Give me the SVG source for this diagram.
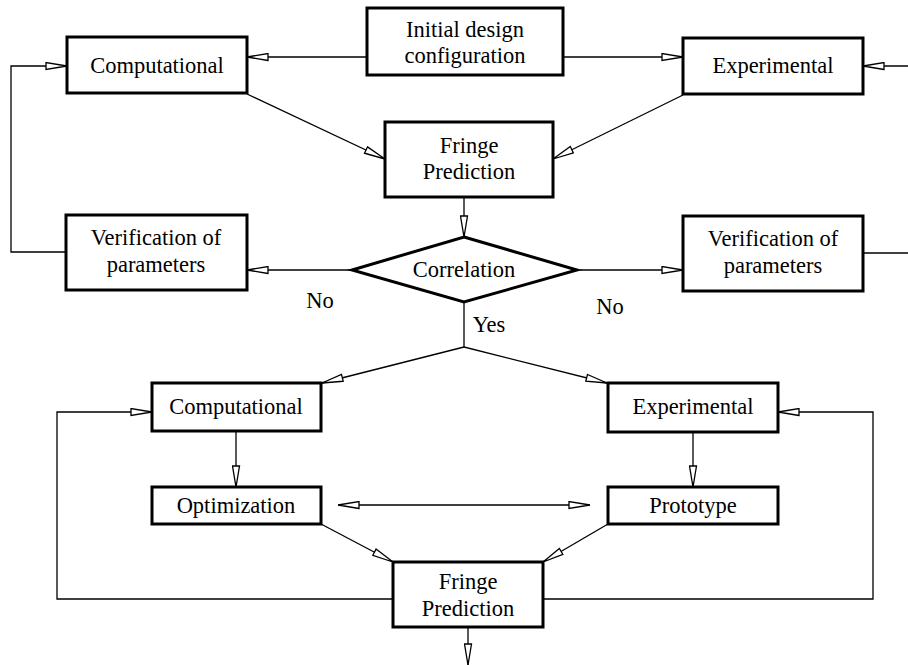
<svg xmlns="http://www.w3.org/2000/svg" width="908" height="665" viewBox="0 0 908 665">
<style>
.box{fill:#fff;stroke:#000;stroke-width:3}
.t{font-family:"Liberation Serif","Times New Roman",serif;font-size:22.5px;fill:#000;text-anchor:middle}
.c{fill:none;stroke:#000;stroke-width:1.3}
</style>
<defs>
<marker id="ah" viewBox="0 0 22 9" refX="22" refY="4.5" markerWidth="22" markerHeight="9" markerUnits="userSpaceOnUse" orient="auto-start-reverse">
<path d="M1,1 L22,4.5 L1,8 Z" fill="#fff" stroke="#000" stroke-width="1.3"/>
</marker>
</defs>
<rect width="908" height="665" fill="#fff"/>
<g id="connectors">
<path class="c" d="M367,57 H247" marker-end="url(#ah)"/>
<path class="c" d="M563,57 H683" marker-end="url(#ah)"/>
<path class="c" d="M247,94 L385,159" marker-end="url(#ah)"/>
<path class="c" d="M683,95 L553,159" marker-end="url(#ah)"/>
<path class="c" d="M464,197 V237" marker-end="url(#ah)"/>
<path class="c" d="M350,270 H247" marker-end="url(#ah)"/>
<path class="c" d="M580,270 H683" marker-end="url(#ah)"/>
<path class="c" d="M66,252 H11 V66 H67" marker-end="url(#ah)"/>
<path class="c" d="M863,253 H908"/>
<path class="c" d="M908,66 H863" marker-end="url(#ah)"/>
<path class="c" d="M464,302 V347"/>
<path class="c" d="M464,347 L322,383" marker-end="url(#ah)"/>
<path class="c" d="M464,347 L607,383" marker-end="url(#ah)"/>
<path class="c" d="M236,431 V487" marker-end="url(#ah)"/>
<path class="c" d="M693,432 V487" marker-end="url(#ah)"/>
<path class="c" d="M338,505 H590" marker-start="url(#ah)" marker-end="url(#ah)"/>
<path class="c" d="M321,524 L393,562" marker-end="url(#ah)"/>
<path class="c" d="M608,524 L543,562" marker-end="url(#ah)"/>
<path class="c" d="M393,599 H57 V412 H152" marker-end="url(#ah)"/>
<path class="c" d="M543,599 H873 V412 H778" marker-end="url(#ah)"/>
<path class="c" d="M468,627 V665" marker-end="url(#ah)"/>
</g>
<g id="initial"><rect class="box" x="367" y="8" width="196" height="67"/><text class="t" x="465" y="37">Initial design</text><text class="t" x="465" y="63">configuration</text></g>
<g id="comp1"><rect class="box" x="67" y="37" width="180" height="56"/><text class="t" x="157" y="73">Computational</text></g>
<g id="exp1"><rect class="box" x="683" y="38" width="180" height="56"/><text class="t" x="773" y="73">Experimental</text></g>
<g id="fringe1"><rect class="box" x="385" y="122" width="168" height="75"/><text class="t" x="469" y="153">Fringe</text><text class="t" x="469" y="179">Prediction</text></g>
<g id="correlation"><polygon class="box" points="464,237 577,270 464,302 352,270"/><text class="t" x="464" y="277">Correlation</text></g>
<g id="verif1"><rect class="box" x="66" y="215" width="181" height="75"/><text class="t" x="156" y="245">Verification of</text><text class="t" x="156" y="272">parameters</text></g>
<g id="verif2"><rect class="box" x="683" y="216" width="180" height="75"/><text class="t" x="773" y="246">Verification of</text><text class="t" x="773" y="273">parameters</text></g>
<g id="labels"><text class="t" x="320" y="308">No</text><text class="t" x="610" y="314">No</text><text class="t" x="489" y="332">Yes</text></g>
<g id="comp2"><rect class="box" x="152" y="383" width="169" height="48"/><text class="t" x="236" y="414">Computational</text></g>
<g id="exp2"><rect class="box" x="608" y="383" width="170" height="49"/><text class="t" x="693" y="414">Experimental</text></g>
<g id="optim"><rect class="box" x="152" y="487" width="169" height="37"/><text class="t" x="236" y="513">Optimization</text></g>
<g id="proto"><rect class="box" x="608" y="487" width="170" height="37"/><text class="t" x="693" y="513">Prototype</text></g>
<g id="fringe2"><rect class="box" x="393" y="562" width="150" height="65"/><text class="t" x="468" y="589">Fringe</text><text class="t" x="468" y="616">Prediction</text></g>
</svg>
